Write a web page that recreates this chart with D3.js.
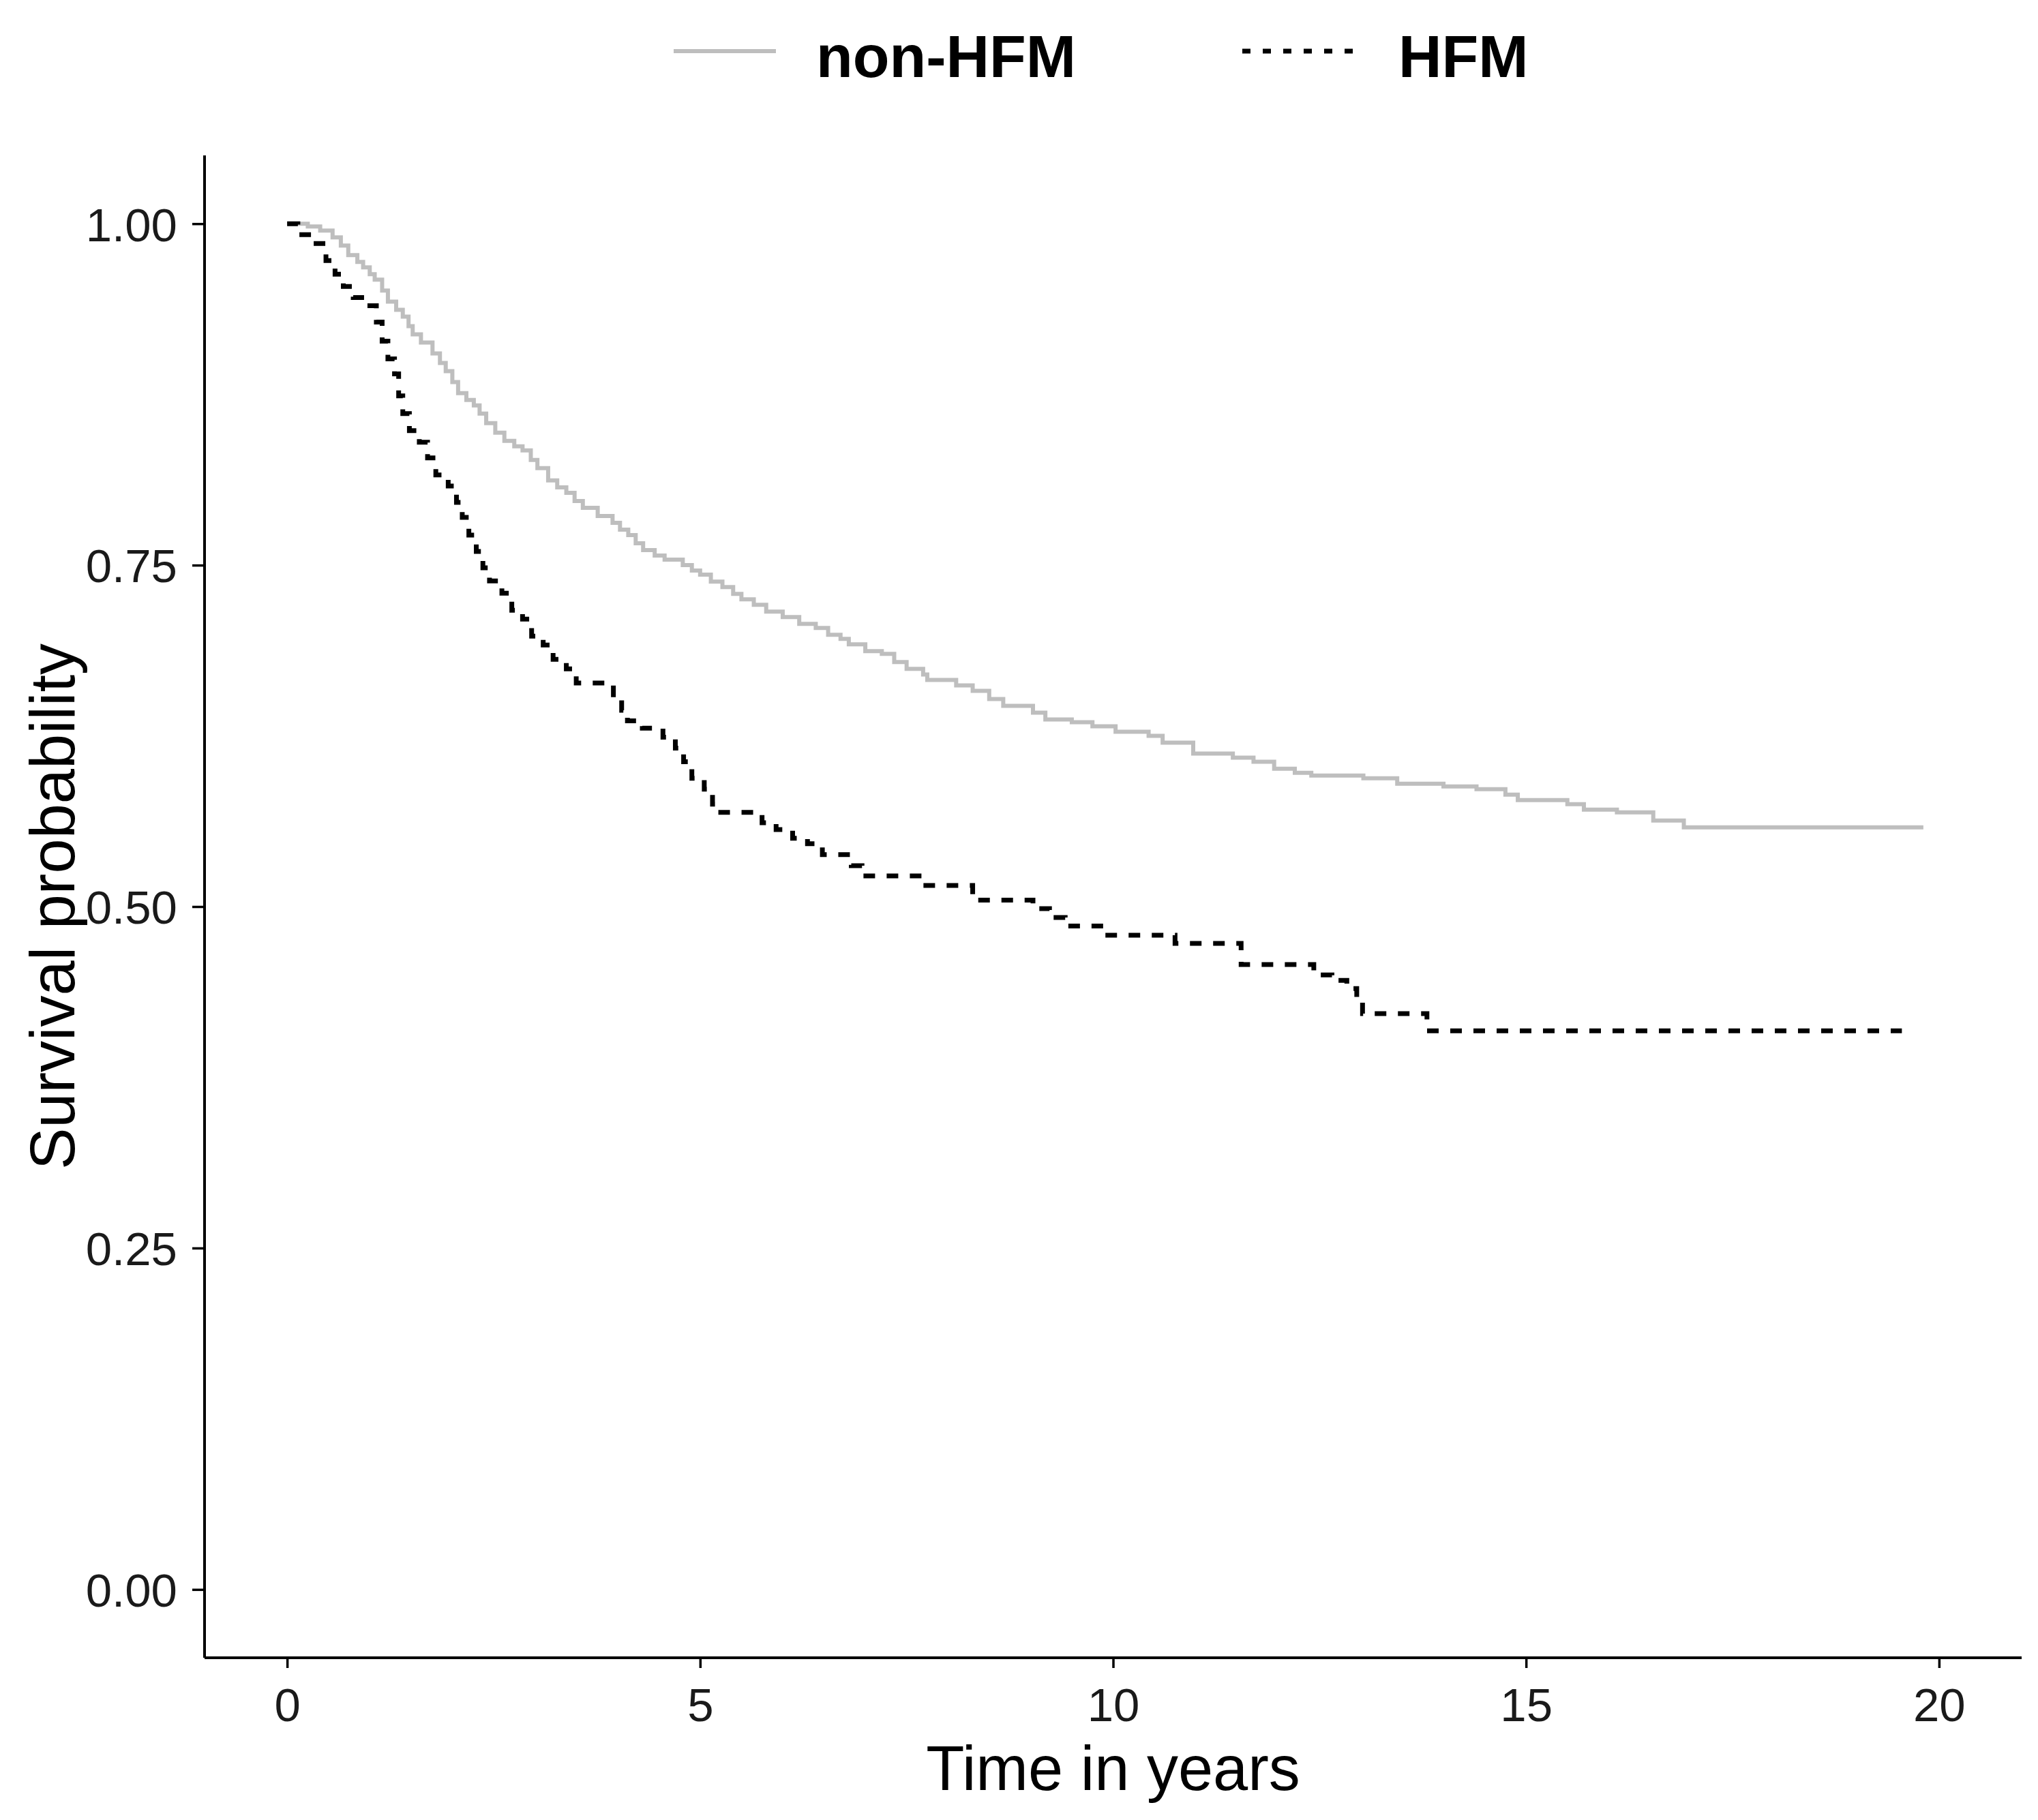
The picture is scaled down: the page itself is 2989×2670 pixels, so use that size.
<!DOCTYPE html>
<html>
<head>
<meta charset="utf-8">
<script src="https://cdn.jsdelivr.net/npm/d3@7"></script>
<style>
  html, body { margin: 0; padding: 0; background: #ffffff; }
  svg { display: block; }
  text { font-family: "Liberation Sans", Arial, Helvetica, sans-serif; }
</style>
</head>
<body>
<script>
// ---------------- data ----------------
const seriesNames = ["non-HFM", "HFM"];

const nonHfmTime = [0, 0.25, 0.4, 0.55, 0.65, 0.74, 0.85, 0.92, 1.0, 1.06, 1.15, 1.22, 1.32, 1.40, 1.47, 1.52, 1.62, 1.76, 1.85, 1.92,
  2.0, 2.07, 2.17, 2.26, 2.33, 2.41, 2.52, 2.63, 2.75, 2.85, 2.95, 3.03, 3.16, 3.27, 3.38, 3.48, 3.58, 3.76, 3.94, 4.03,
  4.13, 4.22, 4.31, 4.45, 4.57, 4.79, 4.9, 5.0, 5.13, 5.27, 5.4, 5.5, 5.65, 5.8, 6.0, 6.2, 6.4, 6.55, 6.7, 6.8,
  7.0, 7.2, 7.35, 7.5, 7.7, 7.75, 8.1, 8.3, 8.5, 8.67, 9.03, 9.18, 9.5, 9.75, 10.03, 10.43, 10.6, 10.97, 11.45, 11.7,
  11.95, 12.2, 12.4, 13.03, 13.44, 14.0, 14.4, 14.75, 14.9, 15.5, 15.7, 16.1, 16.54, 16.91, 19.81];
const nonHfmSurv = [1.0, 0.998, 0.995, 0.990, 0.984, 0.977, 0.972, 0.968, 0.963, 0.959, 0.951, 0.943, 0.937, 0.932, 0.925, 0.919, 0.913, 0.905, 0.898, 0.892,
  0.884, 0.876, 0.871, 0.867, 0.861, 0.854, 0.847, 0.841, 0.837, 0.834, 0.827, 0.821, 0.812, 0.807, 0.803, 0.797, 0.792, 0.786, 0.781, 0.776,
  0.772, 0.766, 0.761, 0.757, 0.754, 0.750, 0.746, 0.743, 0.738, 0.734, 0.729, 0.725, 0.721, 0.716, 0.712, 0.707, 0.704, 0.699, 0.696, 0.692,
  0.687, 0.685, 0.679, 0.674, 0.670, 0.666, 0.662, 0.658, 0.652, 0.647, 0.642, 0.637, 0.635, 0.632, 0.628, 0.625, 0.620, 0.612, 0.609, 0.606,
  0.601, 0.598, 0.596, 0.594, 0.590, 0.588, 0.586, 0.582, 0.578, 0.575, 0.571, 0.569, 0.563, 0.558, 0.558];

const hfmTime = [0, 0.13, 0.32, 0.47, 0.58, 0.68, 0.8, 0.95, 1.08, 1.15, 1.22, 1.30, 1.35, 1.40, 1.48, 1.60, 1.70, 1.80, 1.95, 2.05,
  2.12, 2.20, 2.29, 2.37, 2.45, 2.60, 2.72, 2.85, 2.96, 3.10, 3.22, 3.38, 3.50, 3.95, 4.05, 4.12, 4.30, 4.55, 4.70, 4.80,
  4.90, 5.05, 5.15, 5.20, 5.75, 5.92, 6.12, 6.30, 6.48, 6.83, 6.96, 7.70, 8.30, 9.03, 9.23, 9.42, 9.88, 10.75, 11.55, 12.43,
  12.65, 12.83, 12.95, 13.02, 13.80, 19.55];
const hfmSurv = [1.0, 0.992, 0.9855, 0.973, 0.963, 0.954, 0.946, 0.940, 0.928, 0.914, 0.901, 0.890, 0.874, 0.861, 0.8485, 0.840, 0.8285, 0.816, 0.808, 0.796,
  0.785, 0.772, 0.760, 0.748, 0.7385, 0.7295, 0.717, 0.7105, 0.698, 0.6915, 0.681, 0.674, 0.6637, 0.652, 0.6437, 0.636, 0.6307, 0.624, 0.616, 0.606,
  0.594, 0.586, 0.575, 0.569, 0.5614, 0.5564, 0.550, 0.546, 0.538, 0.530, 0.5225, 0.5155, 0.5047, 0.4985, 0.492, 0.4858, 0.479, 0.473, 0.4576, 0.450,
  0.446, 0.440, 0.430, 0.4216, 0.409, 0.409];

const xTicks = [0, 5, 10, 15, 20];
const yTicks = [0, 0.25, 0.5, 0.75, 1.0];
const xTitle = "Time in years";
const yTitle = "Survival probability";

// ---------------- layout ----------------
const W = 2989, H = 2670;
const panel = { left: 300, right: 2965, top: 228, bottom: 2432 };

const svg = d3.select("body").append("svg")
  .attr("width", W).attr("height", H)
  .attr("viewBox", `0 0 ${W} ${H}`);
svg.append("rect").attr("width", W).attr("height", H).attr("fill", "#ffffff");

const x = d3.scaleLinear().domain([-1, 21]).range([panel.left, panel.right]);
const y = d3.scaleLinear().domain([-0.05, 1.05]).range([panel.bottom, panel.top]);

// ---------------- curves ----------------
const line = d3.line()
  .x(d => x(d[0])).y(d => y(d[1]))
  .curve(d3.curveStepAfter);

const nonHfm = nonHfmTime.map((t, i) => [t, nonHfmSurv[i]]);
const hfm = hfmTime.map((t, i) => [t, hfmSurv[i]]);

svg.append("path").datum(nonHfm)
  .attr("d", line)
  .attr("fill", "none")
  .attr("stroke", "#bebebe")
  .attr("stroke-width", 6);

svg.append("path").datum(hfm)
  .attr("d", line)
  .attr("fill", "none")
  .attr("stroke", "#000000")
  .attr("stroke-width", 7)
  .attr("stroke-dasharray", "17,17");

// ---------------- axes ----------------
const xAxis = d3.axisBottom(x).tickValues(xTicks).tickSize(15).tickPadding(10).tickFormat(d3.format("d"));
const gx = svg.append("g").attr("transform", `translate(0,${panel.bottom})`).call(xAxis);
gx.select(".domain").remove();
gx.append("line")
  .attr("x1", panel.left).attr("x2", panel.right)
  .attr("y1", 0).attr("y2", 0)
  .attr("stroke", "#000").attr("stroke-width", 4);
gx.selectAll(".tick line").attr("stroke", "#000").attr("stroke-width", 3.5);
gx.selectAll(".tick text")
  .attr("font-size", 69)
  .attr("fill", "#1a1a1a")
  .attr("y", 93)
  .attr("dy", 0);

const yAxis = d3.axisLeft(y).tickValues(yTicks).tickSize(18).tickPadding(22).tickFormat(d3.format(".2f"));
const gy = svg.append("g").attr("transform", `translate(${panel.left},0)`).call(yAxis);
gy.select(".domain").remove();
gy.append("line")
  .attr("x1", 0).attr("x2", 0)
  .attr("y1", panel.top).attr("y2", panel.bottom)
  .attr("stroke", "#000").attr("stroke-width", 4);
gy.selectAll(".tick line").attr("stroke", "#000").attr("stroke-width", 3.5);
gy.selectAll(".tick text")
  .attr("font-size", 69)
  .attr("fill", "#1a1a1a")
  .attr("dy", "0.36em");

// ---------------- titles ----------------
svg.append("text")
  .attr("x", (panel.left + panel.right) / 2)
  .attr("y", 2626)
  .attr("text-anchor", "middle")
  .attr("font-size", 92)
  .attr("fill", "#000")
  .text(xTitle);

svg.append("text")
  .attr("transform", `translate(109,${(panel.top + panel.bottom) / 2}) rotate(-90)`)
  .attr("text-anchor", "middle")
  .attr("font-size", 92)
  .attr("fill", "#000")
  .text(yTitle);

// ---------------- legend ----------------
const legendItems = [
  { name: seriesNames[0], x1: 988, x2: 1138, tx: 1197, stroke: "#bebebe", width: 6, dash: null },
  { name: seriesNames[1], x1: 1822, x2: 1996, tx: 2051, stroke: "#000000", width: 7, dash: "12,18" }
];
const lg = svg.append("g");
legendItems.forEach(it => {
  const ln = lg.append("line")
    .attr("x1", it.x1).attr("x2", it.x2)
    .attr("y1", 75).attr("y2", 75)
    .attr("stroke", it.stroke).attr("stroke-width", it.width);
  if (it.dash) ln.attr("stroke-dasharray", it.dash);
  lg.append("text")
    .attr("x", it.tx).attr("y", 113)
    .attr("font-size", 88)
    .attr("font-weight", "bold")
    .attr("fill", "#000")
    .text(it.name);
});
</script>
</body>
</html>
